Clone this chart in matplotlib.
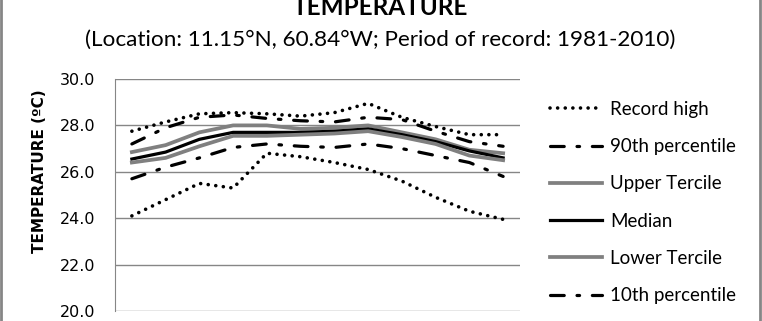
"""
Monthly temperature climatology chart (percentile envelope)
"""
import matplotlib.pyplot as plt
from matplotlib.patches import Rectangle

months = ['Jan', 'Feb', 'Mar', 'Apr', 'May', 'Jun',
          'Jul', 'Aug', 'Sep', 'Oct', 'Nov', 'Dec']

record_high = [27.75, 28.15, 28.5, 28.55, 28.5, 28.4, 28.55, 28.95, 28.35, 27.95, 27.6, 27.6]
pct90 = [27.2, 27.9, 28.35, 28.45, 28.3, 28.2, 28.15, 28.35, 28.25, 27.75, 27.3, 27.1]
upper_tercile = [26.85, 27.15, 27.7, 28.0, 28.0, 27.85, 27.9, 28.0, 27.7, 27.4, 26.95, 26.8]
median = [26.55, 26.85, 27.4, 27.7, 27.7, 27.7, 27.75, 27.85, 27.6, 27.3, 26.9, 26.6]
lower_tercile = [26.4, 26.6, 27.1, 27.55, 27.55, 27.6, 27.65, 27.75, 27.5, 27.2, 26.7, 26.5]
pct10 = [25.7, 26.2, 26.6, 27.05, 27.2, 27.1, 27.05, 27.2, 27.0, 26.7, 26.4, 25.8]
record_low = [24.1, 24.8, 25.5, 25.3, 26.8, 26.65, 26.4, 26.1, 25.6, 24.9, 24.3, 23.95]

yticks = [20.0, 22.0, 24.0, 26.0, 28.0, 30.0]

GRAY = '#868686'
dotted = (0, (0.01, 2.1))
dashdot = (0, (4.3, 4, 0.8, 4))

fig = plt.figure(figsize=(7.62, 3.21), dpi=100)
fig.patch.set_facecolor('white')
ax = fig.add_axes([115 / 762, 1 - 311 / 321, 405 / 762, 232 / 321])

x = list(range(len(months)))
ax.plot(x, record_high, color='black', lw=2.6, linestyle=dotted,
        dash_capstyle='round', label='Record high')
ax.plot(x, pct90, color='black', lw=2.3, linestyle=dashdot,
        dash_capstyle='round', label='90th percentile')
ax.plot(x, upper_tercile, color='#808080', lw=2.7, label='Upper Tercile')
ax.plot(x, median, color='black', lw=2.3, label='Median')
ax.plot(x, lower_tercile, color='#808080', lw=2.7, label='Lower Tercile')
ax.plot(x, pct10, color='black', lw=2.3, linestyle=dashdot,
        dash_capstyle='round', label='10th percentile')
ax.plot(x, record_low, color='black', lw=2.6, linestyle=dotted,
        dash_capstyle='round', label='_Record low')

ax.set_xlim(-0.5, len(months) - 0.5)
ax.set_ylim(20, 30)
ax.set_yticks(yticks)
ax.set_yticklabels([f'{v:.1f}' for v in yticks], fontsize=11.5, family='DejaVu Sans')
ax.set_xticks([])
ax.tick_params(axis='y', length=0, pad=14)
ax.grid(axis='y', color=GRAY, lw=1)
ax.set_axisbelow(True)
for side in ['top', 'right', 'bottom']:
    ax.spines[side].set_visible(False)
ax.spines['left'].set_color(GRAY)

fig.text(40 / 762, 1 - 171 / 321, 'TEMPERATURE (ºC)', rotation=90, ha='center',
         va='center', fontsize=11, fontweight='bold', family='DejaVu Sans')

# title is cut off at the top edge in the source image
fig.text(380 / 762, 1 - 15 / 321, 'TEMPERATURE', ha='center', va='baseline',
         fontsize=17.5, fontweight='bold', family='Lato')
fig.text(380 / 762, 1 - 46 / 321, '(Location: 11.15°N, 60.84°W; Period of record: 1981-2010)',
         ha='center', va='baseline', fontsize=16.2, family='Lato')

ax.legend(loc='upper left', bbox_to_anchor=(550 / 762, 1 - 101 / 321),
          bbox_transform=fig.transFigure, frameon=False,
          handlelength=2.77, handletextpad=0.43, labelspacing=1.08,
          borderaxespad=0, borderpad=0, prop={'family': 'Lato', 'size': 13.5})

# chart area border (only left/right edges show in the crop)
fig.patches.append(Rectangle((1 / 762, -0.1), 759 / 762, 1.2, transform=fig.transFigure,
                             fill=False, edgecolor=GRAY, lw=2, figure=fig))

plt.savefig('out.png', dpi=100, facecolor='white')
plt.close()
